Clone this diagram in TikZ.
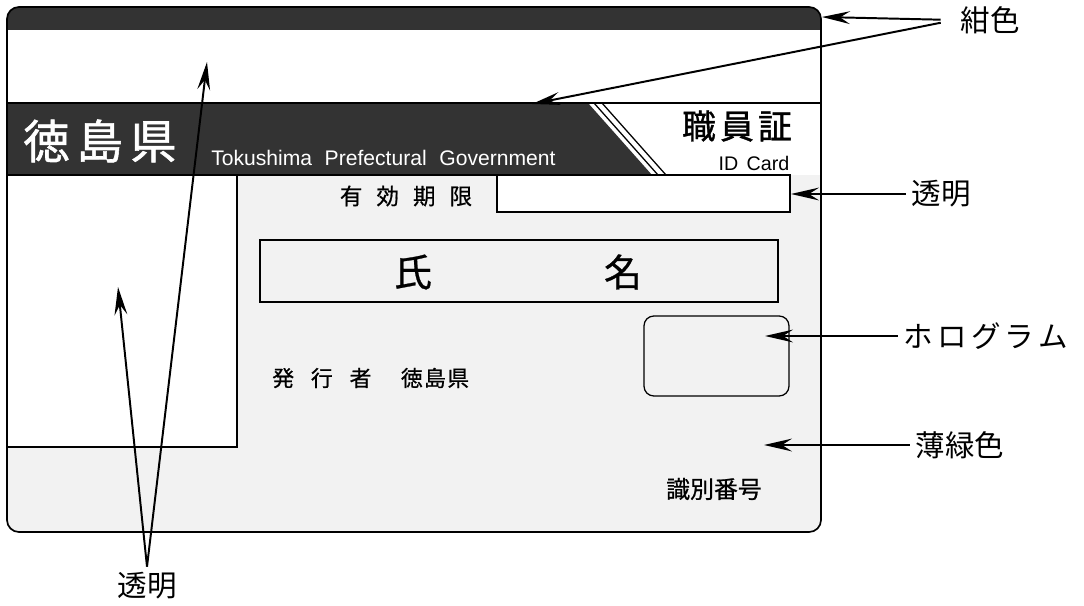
\documentclass[tikz,border=0pt]{standalone}
\usepackage{fontspec}
\newfontfamily\jp{Noto Sans CJK JP}
\newfontfamily\jpm[FakeBold=0.7]{Noto Sans CJK JP}
\newfontfamily\jpb[FakeBold=1.2]{Noto Sans CJK JP}
\newfontfamily\latin{Liberation Sans}
\newcommand{\navycol}{black!80}
\newcommand{\bodycol}{black!5}
\usetikzlibrary{arrows.meta}

\begin{document}
\begin{tikzpicture}[x=0.025cm, y=-0.025cm,
    lbl/.style={font=\jp\fontsize{21}{21}\selectfont, inner sep=4pt},
    ptr/.style={-{Stealth[length=7mm, width=3.2mm, inset=2.5mm]}, line width=1.4pt},
    inner/.style={line width=0.9pt}]

        \useasboundingbox (0, 0) rectangle (1084, 605);

        % fond de la carte
        \begin{scope}
            \clip[rounded corners=8.5pt] (7, 7) rectangle (821, 532);
            \fill[\bodycol] (7, 7) rectangle (821, 532);
            \fill[\navycol] (7, 7) rectangle (821, 30);
            \fill[white] (7, 30) rectangle (821, 175);
            \fill[\navycol] (7, 103) -- (588, 103) -- (652, 175) -- (7, 175) -- cycle;
            \fill[white] (7, 175) rectangle (237, 447);
        \end{scope}

        % lignes
        \draw[inner] (7, 103) -- (821, 103);
        \draw[inner] (7, 175) -- (790, 175);
        \draw[inner] (594, 103) -- (658, 175);
        \draw[inner] (602, 103) -- (666, 175);
        \draw[inner] (237, 175) -- (237, 447) -- (7, 447);

        % cases
        \draw[inner, fill=white] (497, 175) rectangle (790, 212);
        \draw[inner] (260, 240) rectangle (778, 302);
        \draw[inner, rounded corners=7pt] (644, 316) rectangle (789, 396);

        % contour
        \draw[line width=1.2pt, rounded corners=8.5pt] (7, 7) rectangle (821, 532);

        % textes
        \node[white, font=\jpb\fontsize{33}{33}\selectfont] (ken) at (100, 141) {徳\hspace{5pt}島\hspace{5pt}県};
        \node[white, font=\latin\fontsize{15}{15}\selectfont, anchor=west, inner sep=0pt] (gov) at (211, 158) {Tokushima\hspace{9pt}Prefectural\hspace{9pt}Government};
        \node[font=\jpb\fontsize{24}{24}\selectfont] (shoku) at (737, 126) {職\hspace{3pt}員\hspace{3pt}証};
        \node[font=\latin\fontsize{14}{14}\selectfont] (idc) at (754, 163) {ID\hspace{6pt}Card};
        \node[font=\jpm\fontsize{16}{16}\selectfont] (kigen) at (406, 196) {有\hspace{10pt}効\hspace{10pt}期\hspace{10pt}限};
        \node[font=\jpm\fontsize{27}{27}\selectfont] (shi) at (413, 272) {氏};
        \node[font=\jpm\fontsize{27}{27}\selectfont] (mei) at (623, 272) {名};
        \node[font=\jpm\fontsize{15.5}{15.5}\selectfont, anchor=west, inner sep=0pt] (hakko) at (272, 378) {発\hspace{12pt}行\hspace{12pt}者\hspace{21pt}徳\hspace{1pt}島\hspace{1pt}県};
        \node[font=\jpm\fontsize{17}{17}\selectfont] (shiki) at (714, 489) {識別番号};

        % legendes
        \node[lbl] (kon) at (990, 20) {紺色};
        \node[lbl] (tomeiR) at (941, 194) {透明};
        \node[lbl] (holo) at (986, 336) {ホ\hspace{3pt}ロ\hspace{3pt}グ\hspace{3pt}ラ\hspace{3pt}ム};
        \node[lbl] (usumidori) at (960, 445) {薄緑色};
        \node[lbl] (tomeiB) at (147, 586) {透明};

        \coordinate (konA) at (822, 17);
        \coordinate (konB) at (532, 104);
        \coordinate (boxR) at (791, 194);
        \coordinate (holoT) at (765, 336);
        \coordinate (greenT) at (764, 445);
        \coordinate (winT) at (118, 287);
        \coordinate (bandT) at (207, 62);

        % fleches
        \draw[ptr, shorten <=10pt] (kon.west) -- (konA);
        \draw[ptr, shorten <=10pt] (kon.west) -- (konB);
        \draw[ptr] (tomeiR.west) -- (boxR);
        \draw[ptr] (holo.west) -- (holoT);
        \draw[ptr] (usumidori.west) -- (greenT);
        \draw[ptr] (tomeiB.north) -- (winT);
        \draw[ptr] (tomeiB.north) -- (bandT);

\end{tikzpicture}
\end{document}
